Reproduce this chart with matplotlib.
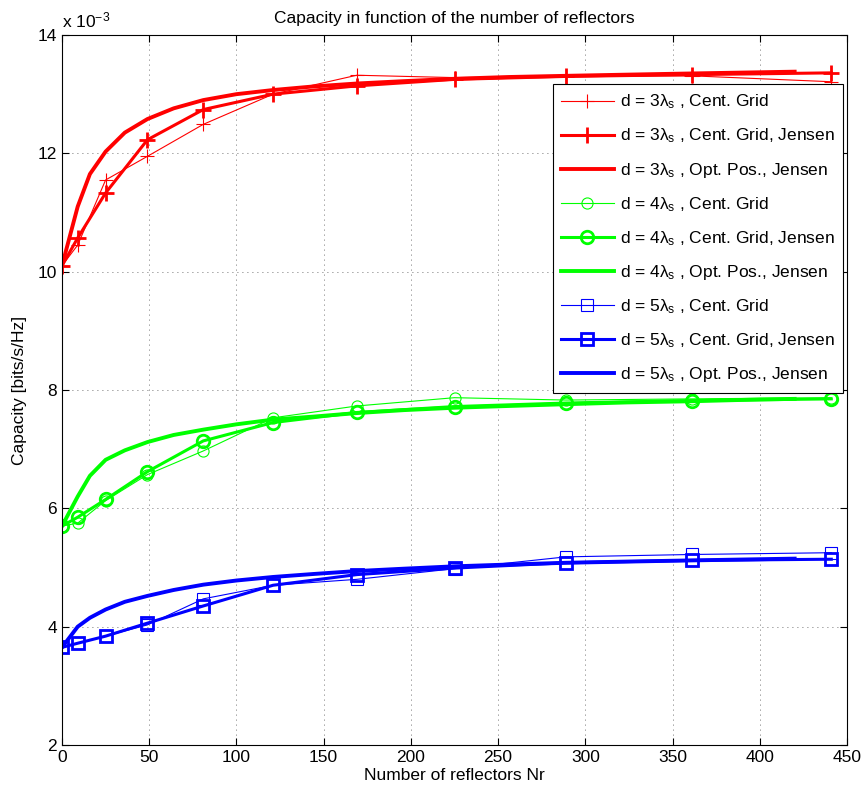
import numpy as np
import matplotlib
matplotlib.use("Agg")
import matplotlib.pyplot as plt

plt.rcParams['font.family'] = ['Liberation Sans', 'DejaVu Sans']
plt.rcParams['mathtext.fontset'] = 'custom'
plt.rcParams['mathtext.rm'] = 'Liberation Sans'
plt.rcParams['mathtext.it'] = 'Liberation Sans'
plt.rcParams['mathtext.default'] = 'regular'

# ── data (capacity in units of 1e-3 bits/s/Hz) ─────────────────
x_grid = [0, 9, 25, 49, 81, 121, 169, 225, 289, 361, 441]
x_opt = [0, 9, 16, 25, 36, 49, 64, 81, 100, 121, 144, 169, 196, 225,
         256, 289, 324, 361, 400, 420]

red_cg = [10.10, 10.45, 11.55, 11.95, 12.49, 13.00, 13.32, 13.28, 13.30, 13.31, 13.21]
red_cgj = [10.10, 10.57, 11.33, 12.23, 12.74, 13.00, 13.14, 13.25, 13.30, 13.33, 13.36]
red_opt = [10.10, 11.10, 11.65, 12.03, 12.35, 12.58, 12.76, 12.90, 13.00, 13.07,
           13.13, 13.18, 13.22, 13.26, 13.29, 13.31, 13.33, 13.35, 13.37, 13.38]

green_cg = [5.70, 5.75, 6.13, 6.57, 6.97, 7.53, 7.73, 7.87, 7.83, 7.85, 7.87]
green_cgj = [5.70, 5.85, 6.15, 6.62, 7.14, 7.45, 7.62, 7.72, 7.78, 7.82, 7.85]
green_opt = [5.70, 6.20, 6.55, 6.82, 6.98, 7.12, 7.24, 7.33, 7.42, 7.50,
             7.55, 7.61, 7.66, 7.70, 7.73, 7.76, 7.79, 7.81, 7.84, 7.85]

blue_cg = [3.65, 3.72, 3.84, 4.03, 4.47, 4.70, 4.80, 4.98, 5.18, 5.22, 5.25]
blue_cgj = [3.65, 3.72, 3.84, 4.06, 4.35, 4.70, 4.88, 4.99, 5.08, 5.12, 5.14]
blue_opt = [3.65, 4.00, 4.15, 4.29, 4.42, 4.52, 4.62, 4.71, 4.78, 4.84,
            4.89, 4.94, 4.98, 5.02, 5.05, 5.08, 5.10, 5.12, 5.14, 5.15]

dists = [3, 4, 5]
colors = ['#ff0000', '#00ff00', '#0000ff']
markers = ['+', 'o', 's']
cg_sets = [red_cg, green_cg, blue_cg]
cgj_sets = [red_cgj, green_cgj, blue_cgj]
opt_sets = [red_opt, green_opt, blue_opt]

FS = 12.5

fig = plt.figure(figsize=(8.66, 7.96), dpi=100)
ax = fig.add_axes([62 / 866, 51 / 796, 785 / 866, 710 / 796])

for d, c, m, cg, cgj, opt in zip(dists, colors, markers, cg_sets, cgj_sets, opt_sets):
    ms_thin = 10 if m == '+' else 8
    ms_thick = 11 if m == '+' else 9
    ax.plot(x_grid, cg, color=c, lw=0.8, marker=m, ms=ms_thin, mfc='none',
            mec=c, mew=0.8, label=r"d = %d$\lambda_s$ , Cent. Grid" % d)
    ax.plot(x_grid, cgj, color=c, lw=2.2, marker=m, ms=ms_thick, mfc='none',
            mec=c, mew=2.0, label=r"d = %d$\lambda_s$ , Cent. Grid, Jensen" % d)
    ax.plot(x_opt, opt, color=c, lw=2.8,
            label=r"d = %d$\lambda_s$ , Opt. Pos., Jensen" % d)

ax.set_xlim(0, 450)
ax.set_ylim(2, 14)
ax.set_xticks(np.arange(0, 451, 50))
ax.set_yticks(np.arange(2, 15, 2))
ax.tick_params(direction='in', top=True, right=True, length=5, labelsize=FS)
ax.grid(True, color='#444444', linestyle=(0, (1, 5)), linewidth=0.6)
for sp in ax.spines.values():
    sp.set_linewidth(0.8)

ax.set_title("Capacity in function of the number of reflectors", fontsize=FS, pad=9)
ax.set_xlabel("Number of reflectors Nr", fontsize=FS, labelpad=2)
ax.set_ylabel("Capacity [bits/s/Hz]", fontsize=FS, labelpad=8)
ax.text(0, 1.006, r"x 10$^{-3}$", transform=ax.transAxes, fontsize=FS,
        ha='left', va='bottom')

leg = ax.legend(loc='upper right', bbox_to_anchor=(0.995, 0.931), fontsize=FS,
                handlelength=3.0, handletextpad=0.35, labelspacing=0.88,
                borderpad=0.5, borderaxespad=0, fancybox=False, framealpha=1,
                edgecolor='black')
leg.get_frame().set_linewidth(0.8)

fig.savefig("out.png", dpi=100)
